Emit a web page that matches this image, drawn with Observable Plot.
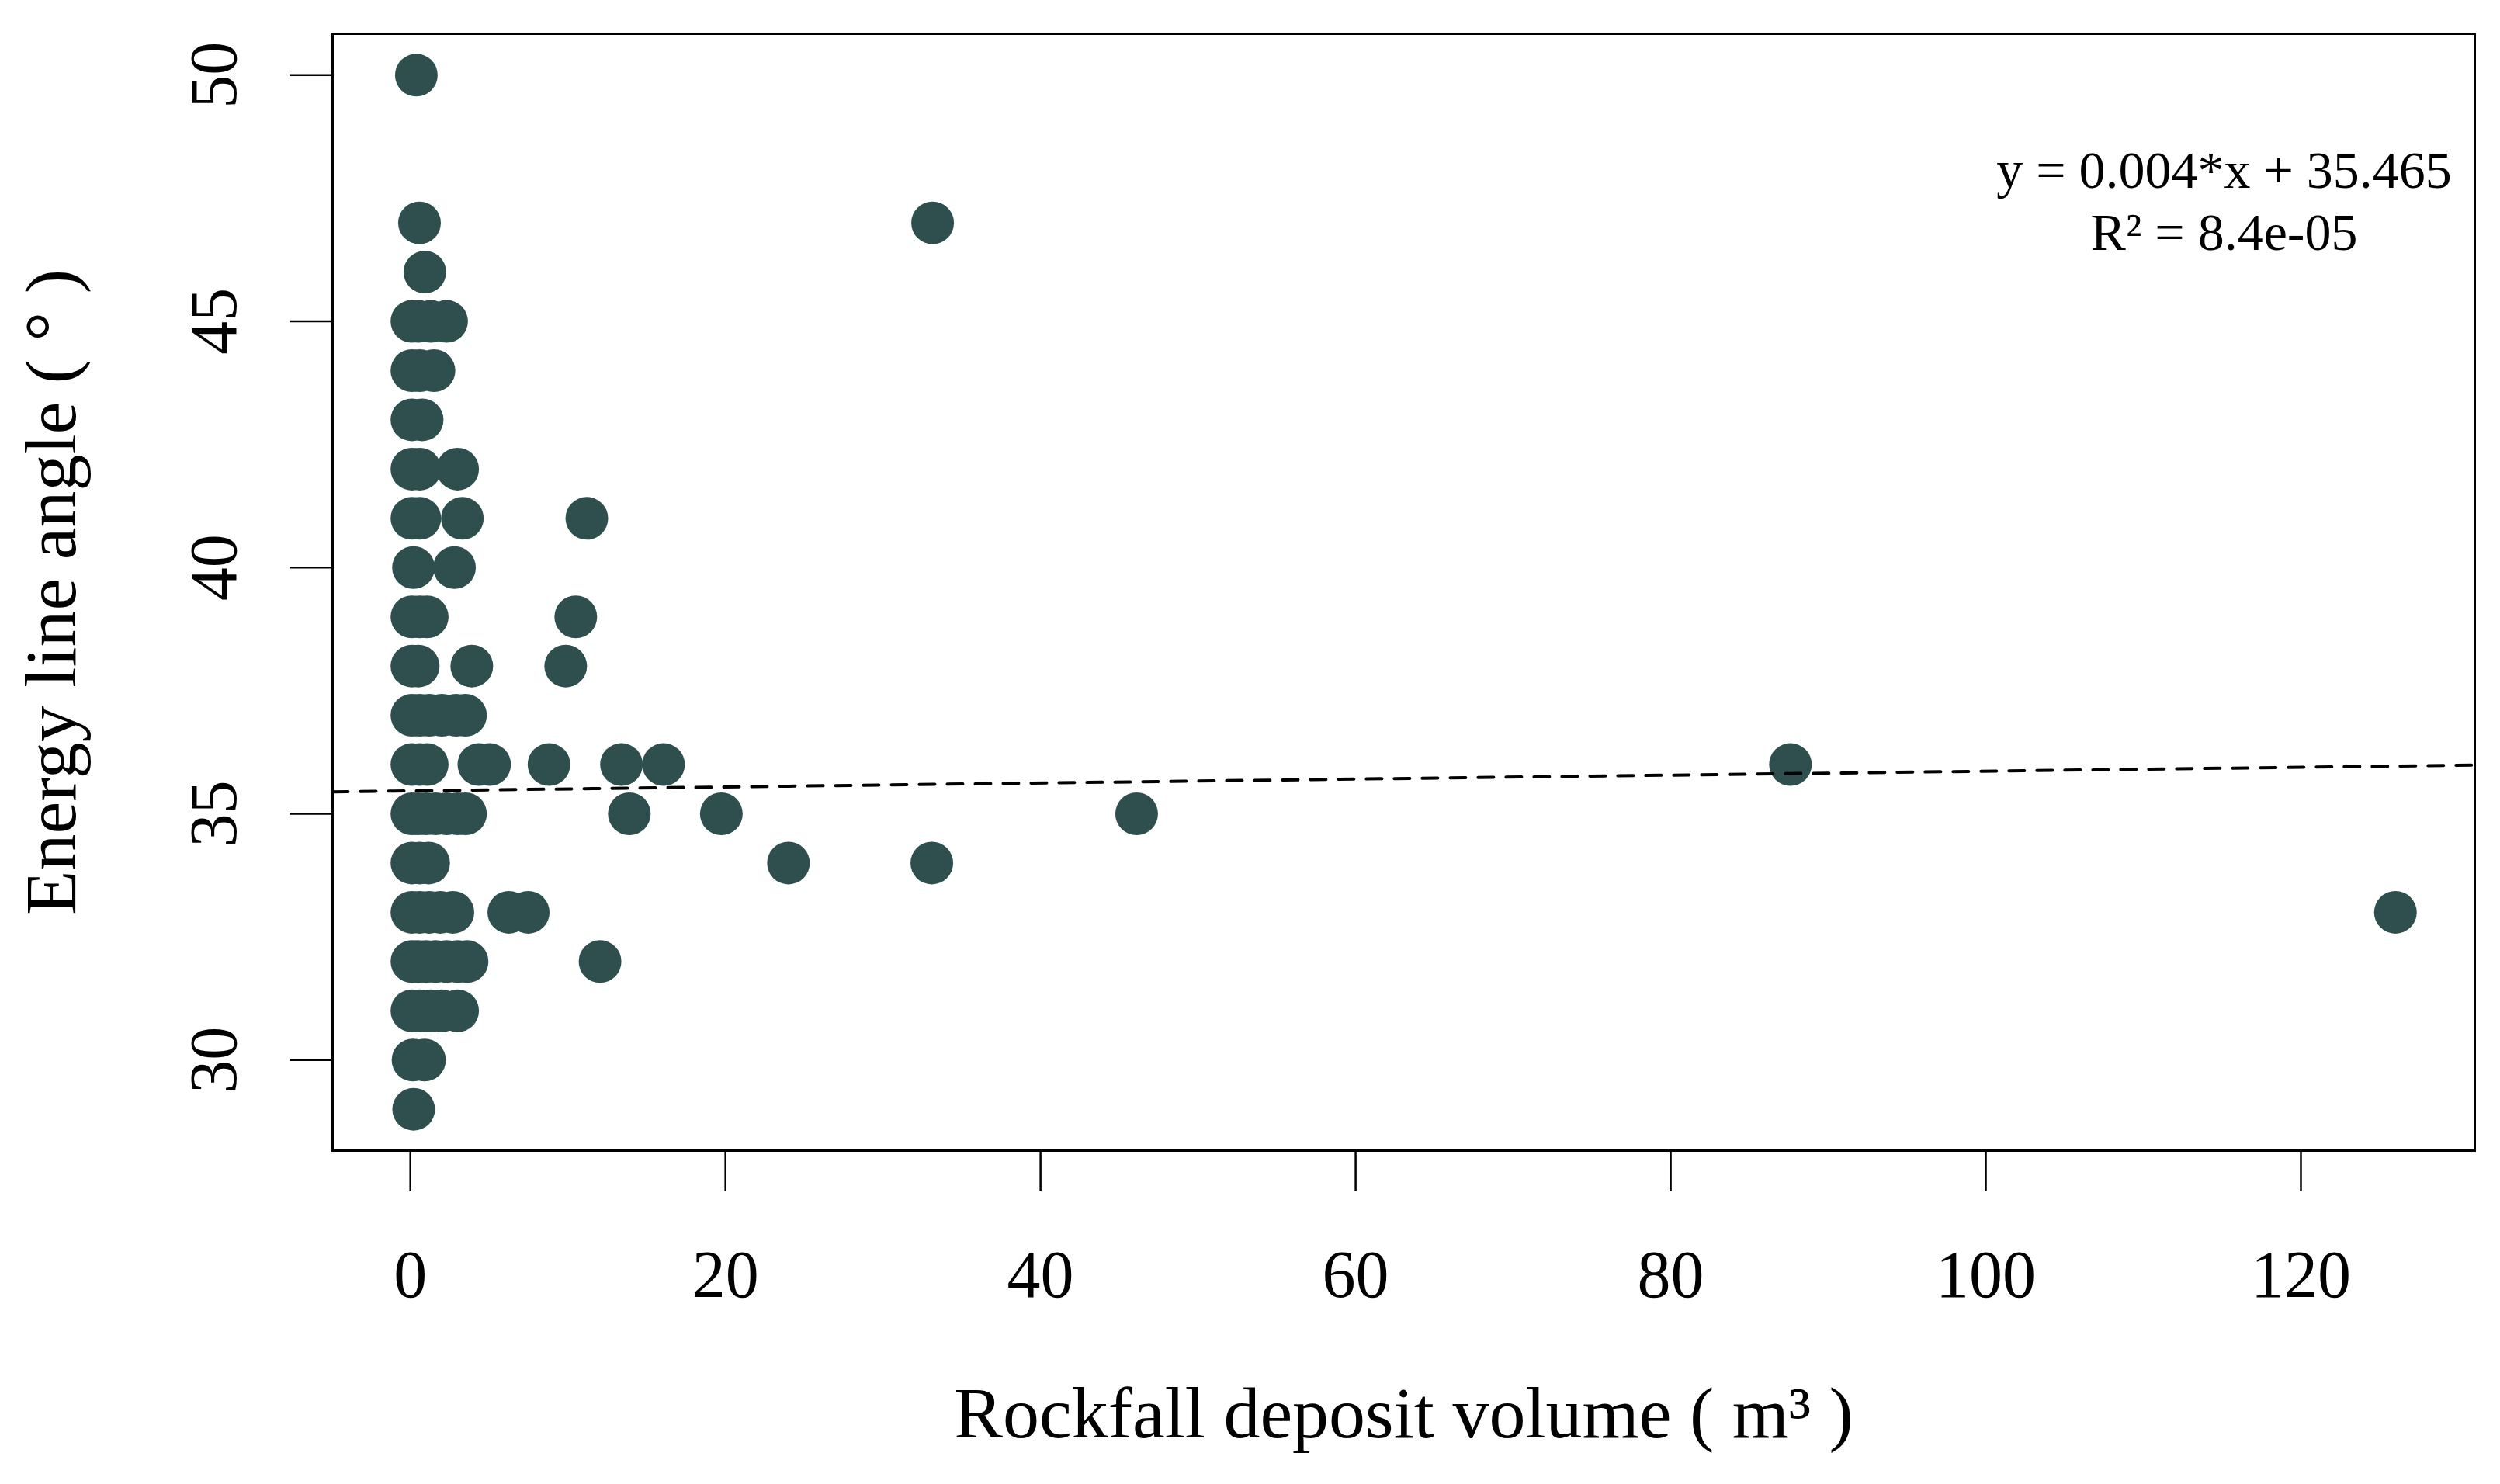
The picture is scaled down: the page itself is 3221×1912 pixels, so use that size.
<!DOCTYPE html>
<html>
<head>
<meta charset="utf-8">
<script src="https://cdn.jsdelivr.net/npm/d3@7"></script>
<script src="https://cdn.jsdelivr.net/npm/@observablehq/plot@0.6"></script>
<style>
  html, body { margin: 0; padding: 0; background: #fff; }
  svg { display: block; }
</style>
</head>
<body>
<div id="chart"></div>
<script>
// Rockfall deposit volume (m³) and energy line angle (°)
const volume = [
  0.38,
  0.58, 33.15,
  0.92,
  0.1, 0.5, 1.3, 2.3,
  0.1, 0.6, 1.5,
  0.1, 0.75,
  0.1, 0.6, 3.0,
  0.1, 0.6, 3.3, 11.2,
  0.2, 2.8,
  0.1, 0.6, 1.07, 10.5,
  0.1, 0.5, 3.9, 9.86,
  0.1, 0.6, 1.2, 2.0, 2.9, 3.5,
  0.1, 0.6, 1.07, 4.35, 5.03, 8.8, 13.4, 16.07, 87.6,
  0.1, 0.5, 1.0, 1.6, 2.3, 3.0, 3.5, 13.9, 19.74, 46.1,
  0.1, 0.6, 1.16, 24.0, 33.1,
  0.1, 0.6, 1.2, 1.9, 2.7, 6.25, 7.48, 126.0,
  0.1, 0.5, 1.0, 1.6, 2.3, 3.0, 3.6, 12.04,
  0.1, 0.6, 1.3, 2.0, 3.0,
  0.17, 0.9,
  0.21
];
const angle = [
  50,
  47, 47,
  46,
  45, 45, 45, 45,
  44, 44, 44,
  43, 43,
  42, 42, 42,
  41, 41, 41, 41,
  40, 40,
  39, 39, 39, 39,
  38, 38, 38, 38,
  37, 37, 37, 37, 37, 37,
  36, 36, 36, 36, 36, 36, 36, 36, 36,
  35, 35, 35, 35, 35, 35, 35, 35, 35, 35,
  34, 34, 34, 34, 34,
  33, 33, 33, 33, 33, 33, 33, 33,
  32, 32, 32, 32, 32, 32, 32, 32,
  31, 31, 31, 31, 31,
  30, 30,
  29
];
const xTicks = [0, 20, 40, 60, 80, 100, 120];
const yTicks = [30, 35, 40, 45, 50];
const fitSlope = 0.004;
const fitIntercept = 35.465;
const fitLabel = "y = 0.004*x + 35.465";
const r2Label = "R² = 8.4e-05";
const xTitle = "Rockfall deposit volume ( m³ )";
const yTitle = "Energy line angle ( ° )";

// R-style 4% padded domains
const xExt = d3.extent(volume), yExt = d3.extent(angle);
const xPad = (xExt[1] - xExt[0]) * 0.04, yPad = (yExt[1] - yExt[0]) * 0.04;
const xDomain = [xExt[0] - xPad, xExt[1] + xPad];
const yDomain = [yExt[0] - yPad, yExt[1] + yPad];

const points = volume.map((v, i) => ({volume: v, angle: angle[i]}));
const fit = xDomain.map(x => ({x, y: fitIntercept + fitSlope * x}));

const font = "'Liberation Serif', 'Times New Roman', serif";

const chart = Plot.plot({
  width: 3221,
  height: 1912,
  marginLeft: 428,
  marginRight: 33,
  marginTop: 43,
  marginBottom: 430,
  style: {fontFamily: font, fontSize: "86px", background: "#fff", color: "#000"},
  x: {domain: xDomain},
  y: {domain: yDomain},
  marks: [
    Plot.dot(points, {x: "volume", y: "angle", r: 27.5, fill: "darkslategray", stroke: "none"}),
    Plot.line(fit, {x: "x", y: "y", stroke: "#000", strokeWidth: 4, strokeDasharray: "20,16"}),
    Plot.frame({stroke: "#000", strokeWidth: 3}),
    Plot.axisX({ticks: xTicks, tickSize: 53, tickPadding: 74, strokeWidth: 2.5, fontSize: 86, label: null, fill: "#000"}),
    Plot.axisY({ticks: yTicks, tickSize: 55, tickPadding: 70, tickRotate: -90, strokeWidth: 2.5, fontSize: 86, label: null, fill: "#000"}),
    Plot.text([xTitle], {text: d => d, frameAnchor: "bottom", dy: 369, textAnchor: "middle", lineAnchor: "bottom", fontSize: 94, fill: "#000"}),
    Plot.text([yTitle], {text: d => d, frameAnchor: "left", dx: -332, rotate: -90, textAnchor: "middle", lineAnchor: "bottom", fontSize: 94, fill: "#000"}),
    Plot.text([fitLabel], {text: d => d, frameAnchor: "top-right", dx: -323, dy: 177, textAnchor: "middle", lineAnchor: "middle", fontSize: 68, fill: "#000"}),
    Plot.text([r2Label], {text: d => d, frameAnchor: "top-right", dx: -323, dy: 257, textAnchor: "middle", lineAnchor: "middle", fontSize: 68, fill: "#000"})
  ]
});
document.getElementById("chart").appendChild(chart);
</script>
</body>
</html>
